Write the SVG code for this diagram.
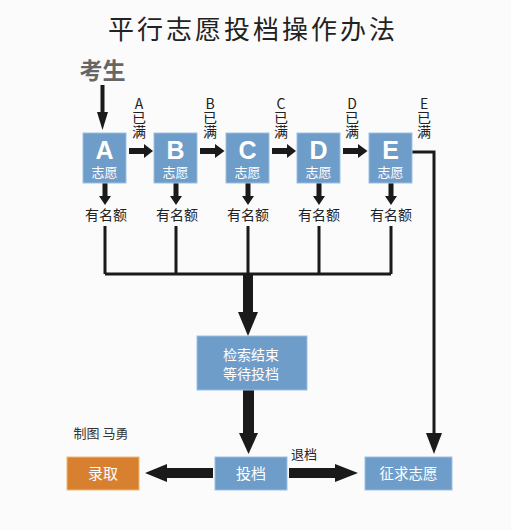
<svg xmlns="http://www.w3.org/2000/svg" width="511" height="530" viewBox="0 0 511 530">
<style>
.cjk{font-family:"Noto Sans CJK SC","Liberation Sans",sans-serif}
.box{fill:#6f9dc9;stroke:#9dbfe0;stroke-width:1}
.org{fill:#d7802f;stroke:#f0b878;stroke-width:1}
.wt{fill:#ffffff;text-anchor:middle}
.let{font-family:"Liberation Sans",Arial,sans-serif;font-weight:bold;font-size:25px;fill:#ffffff;text-anchor:middle}
.vt{font-family:"Noto Sans CJK SC","Liberation Sans",sans-serif;font-size:14px;fill:#222222;writing-mode:vertical-rl;text-orientation:upright}
.ln{fill:none;stroke:#1a1a1a;stroke-width:3}
.ar{fill:#1a1a1a}
</style>
<rect x="0" y="0" width="511" height="530" fill="#fbfbfb"/>
<text x="253" y="39" class="cjk" font-size="26" letter-spacing="3" text-anchor="middle" fill="#222222">平行志愿投档操作办法</text>
<text x="102.5" y="79" class="cjk" font-size="23" font-weight="bold" text-anchor="middle" fill="#666666">考生</text>

<g id="connectors">
  <rect x="100.5" y="85" width="4" height="28" class="ar"/>
  <polygon points="97,112 108,112 102.5,130" class="ar"/>
  <rect x="129" y="148" width="16" height="6" class="ar"/>
  <polygon points="144,144 144,158 153,151" class="ar"/>
  <rect x="200" y="148" width="16" height="6" class="ar"/>
  <polygon points="215,144 215,158 224.5,151" class="ar"/>
  <rect x="272" y="148" width="16" height="6" class="ar"/>
  <polygon points="287,144 287,158 296,151" class="ar"/>
  <rect x="343" y="148" width="16" height="6" class="ar"/>
  <polygon points="358,144 358,158 367.5,151" class="ar"/>
  <rect x="102.5" y="183" width="5" height="14" class="ar"/>
  <polygon points="99,196 111,196 105,205" class="ar"/>
  <rect x="173.5" y="183" width="5" height="14" class="ar"/>
  <polygon points="170,196 182,196 176,205" class="ar"/>
  <rect x="245.5" y="183" width="5" height="14" class="ar"/>
  <polygon points="242,196 254,196 248,205" class="ar"/>
  <rect x="316.5" y="183" width="5" height="14" class="ar"/>
  <polygon points="313,196 325,196 319,205" class="ar"/>
  <rect x="388.5" y="183" width="5" height="14" class="ar"/>
  <polygon points="385,196 397,196 391,205" class="ar"/>
  <path d="M105,226 V274 M176,226 V274 M248,226 V274 M319,226 V274 M391,226 V274 M105,274 H391" class="ln"/>
  <rect x="243" y="274" width="10" height="39" class="ar"/>
  <polygon points="238,312 258,312 248,336" class="ar"/>
  <rect x="243" y="390" width="11" height="44" class="ar"/>
  <polygon points="239,433 258,433 248.5,454" class="ar"/>
  <rect x="166" y="468" width="47" height="10" class="ar"/>
  <polygon points="167,464 167,482 145,473" class="ar"/>
  <rect x="289" y="468" width="47" height="10" class="ar"/>
  <polygon points="335,464 335,482 358,473" class="ar"/>
  <path d="M412,152 H434 V434" class="ln"/>
  <polygon points="426,433 442,433 434,454" class="ar"/>
</g>

<g id="labels">
  <text x="139" y="97" class="vt">A已满</text>
  <text x="210" y="97" class="vt">B已满</text>
  <text x="281" y="97" class="vt">C已满</text>
  <text x="352" y="97" class="vt">D已满</text>
  <text x="424" y="97" class="vt">E已满</text>
  <g class="cjk" font-size="14" fill="#222222" text-anchor="middle">
    <text x="106" y="220">有名额</text>
    <text x="177" y="220">有名额</text>
    <text x="248" y="220">有名额</text>
    <text x="319" y="220">有名额</text>
    <text x="391" y="220">有名额</text>
  </g>
  <text x="304" y="459" class="cjk" font-size="13" fill="#222222" text-anchor="middle">退档</text>
  <text x="101" y="438" class="cjk" font-size="13" fill="#333333" text-anchor="middle">制图 马勇</text>
</g>

<g id="nodeA"><rect x="83" y="133" width="43" height="50" class="box"/><text x="104.5" y="159" class="let">A</text><text x="104.5" y="177" class="cjk wt" font-size="13">志愿</text></g>
<g id="nodeB"><rect x="154" y="133" width="43" height="50" class="box"/><text x="175.5" y="159" class="let">B</text><text x="175.5" y="177" class="cjk wt" font-size="13">志愿</text></g>
<g id="nodeC"><rect x="226" y="133" width="43" height="50" class="box"/><text x="247.5" y="159" class="let">C</text><text x="247.5" y="177" class="cjk wt" font-size="13">志愿</text></g>
<g id="nodeD"><rect x="297" y="133" width="43" height="50" class="box"/><text x="318.5" y="159" class="let">D</text><text x="318.5" y="177" class="cjk wt" font-size="13">志愿</text></g>
<g id="nodeE"><rect x="369" y="133" width="43" height="50" class="box"/><text x="390.5" y="159" class="let">E</text><text x="390.5" y="177" class="cjk wt" font-size="13">志愿</text></g>

<g id="nodeSearch"><rect x="197" y="336" width="110" height="54" class="box"/><text x="251" y="359.5" class="cjk wt" font-size="14">检索结束</text><text x="251" y="378.5" class="cjk wt" font-size="14">等待投档</text></g>
<g id="nodeToudang"><rect x="215" y="457" width="72" height="33" class="box"/><text x="251" y="479" class="cjk wt" font-size="15">投档</text></g>
<g id="nodeLuqu"><rect x="67" y="457" width="72" height="33" class="org"/><text x="103" y="479" class="cjk wt" font-size="15">录取</text></g>
<g id="nodeZhengqiu"><rect x="365" y="457" width="87" height="33" class="box"/><text x="408.5" y="479" class="cjk wt" font-size="14.5">征求志愿</text></g>
</svg>
